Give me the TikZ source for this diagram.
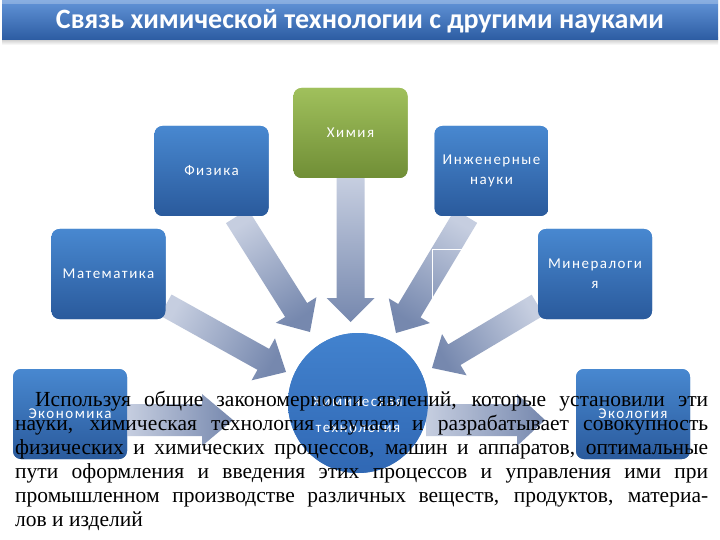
\documentclass[tikz,border=0pt]{standalone}
\usepackage{fontspec}
\setmainfont{Liberation Serif}
\newfontfamily\calib[LetterSpace=10]{Carlito}
\newfontfamily\titlefont{Carlito}
\usetikzlibrary{calc}
\definecolor{boxtop}{RGB}{72,136,208}
\definecolor{boxbot}{RGB}{42,90,156}
\definecolor{grtop}{RGB}{160,192,92}
\definecolor{grbot}{RGB}{112,142,54}
\definecolor{arrlight}{RGB}{198,206,224}
\definecolor{arrdark}{RGB}{118,136,174}
\definecolor{bartop}{RGB}{98,148,216}
\definecolor{barbot}{RGB}{44,92,162}
\definecolor{circtop}{RGB}{66,130,206}
\definecolor{circbot}{RGB}{48,104,180}
\tikzset{
  sci/.style={rounded corners=8pt, minimum width=114pt, minimum height=90pt,
    top color=boxtop, bottom color=boxbot, text=white, align=center,
    inner sep=0pt, font=\calib\fontsize{15}{20}\selectfont},
  scigreen/.style={sci, top color=grtop, bottom color=grbot},
}
\newcommand\blockarrow[5]{%
  \pgfmathanglebetweenpoints{\pgfpointanchor{#1}{center}}{\pgfpointanchor{#2}{center}}%
  \pgfmathsetmacro\arrang{\pgfmathresult-90}%
  \coordinate (hb) at ($(#2)!#5!(#1)$);
  \shade[top color=arrdark, bottom color=arrlight, shading angle=\arrang]
    ($(#1)!#3!90:(#2)$) -- ($(hb)!#3!90:(#2)$) -- ($(hb)!#4!90:(#2)$) -- (#2)
    -- ($(hb)!#4!-90:(#2)$) -- ($(hb)!#3!-90:(#2)$) -- ($(#1)!#3!-90:(#2)$) -- cycle;
}
\begin{document}
\begin{tikzpicture}[x=1pt,y=-1pt]
\useasboundingbox (0,0) rectangle (720,540);
\fill[white] (0,0) rectangle (720,540);
% title bar
\shade[top color=black!25, bottom color=white] (2,38) rectangle (718,45);
\shade[top color=bartop, bottom color=barbot] (2,0) rectangle (718,40);
\fill[white,opacity=0.25] (2,0) rectangle (718,4);
\node[text=white, font=\titlefont\bfseries\fontsize{28}{30}\selectfont] (title) at (360,21)
  {Связь химической технологии с другими науками};
% nodes
\node[scigreen] (chem) at (350.5,133) {Химия};
\node[sci] (fiz) at (211.5,171) {Физика};
\node[sci] (ing) at (491.5,171) {Инженерные\\науки};
\node[sci] (mat) at (108.5,274) {Математика};
\node[sci] (min) at (595,274) {Минералоги\\я};
\node[sci] (eco) at (70,414) {Экономика};
\node[sci] (ecol) at (633,414) {Экология};
% center circle
\node[circle, minimum size=140pt, inner sep=0pt, top color=circtop, bottom color=circbot] (ct) at (358,403) {};
% connector coordinates
\coordinate (tchem) at (chem.south);
\coordinate (pchem) at (350.5,322);
\coordinate (tfiz) at ($(fiz.south)+(25.5,0)$);
\coordinate (pfiz) at (310,332);
\coordinate (ting) at ($(ing.south)+(-25.5,0)$);
\coordinate (ping) at (396,333);
\coordinate (tmat) at ($(mat.east)+(0,31)$);
\coordinate (pmat) at (286,372);
\coordinate (tmin) at ($(min.west)+(0,31)$);
\coordinate (pmin) at (432,368);
\coordinate (teco) at ($(eco.east)+(0,6)$);
\coordinate (peco) at (233,420);
\coordinate (tcir) at ($(ct.east)+(-2,17)$);
\coordinate (pecol) at (545,420);
\blockarrow{tchem}{pchem}{14pt}{24pt}{24pt}
\blockarrow{tfiz}{pfiz}{13pt}{24pt}{26pt}
\blockarrow{ting}{ping}{13pt}{24pt}{26pt}
\blockarrow{tmat}{pmat}{12pt}{24pt}{26pt}
\blockarrow{tmin}{pmin}{12pt}{24pt}{26pt}
\blockarrow{teco}{peco}{16pt}{26pt}{31pt}
\blockarrow{tcir}{pecol}{16pt}{26pt}{28pt}
\draw[white, line width=0.8pt] (432,305) -- (432,249) -- (463,249);
% redraw boxes and circle over arrow tails
\node[scigreen] at (chem) {Химия};
\node[sci] at (fiz) {Физика};
\node[sci] at (ing) {Инженерные\\науки};
\node[sci] at (mat) {Математика};
\node[sci] at (min) {Минералоги\\я};
\node[sci] at (eco) {Экономика};
\node[sci] at (ecol) {Экология};
\node[circle, minimum size=140pt, inner sep=0pt, top color=circtop, bottom color=circbot] at (ct) {};
\node[text=white, align=center, font=\calib\fontsize{15}{26}\selectfont] (ctlabel) at (358,415)
  {Химическая\\технология};
% paragraph
\node[anchor=north west, text width=693pt, align=justify, inner sep=0pt,
  font=\fontsize{21.5}{24}\selectfont] (para) at (15,391)
  {\hspace*{20pt}Используя общие закономерности явлений, которые установили эти\linebreak
   науки, химическая технология изучает и разрабатывает совокупность\linebreak
   физических и химических процессов, машин и аппаратов, оптимальные\linebreak
   пути оформления и введения этих процессов и управления ими при\linebreak
   промышленном производстве различных веществ, продуктов, материа-\linebreak
   лов и изделий};
\end{tikzpicture}
\end{document}
